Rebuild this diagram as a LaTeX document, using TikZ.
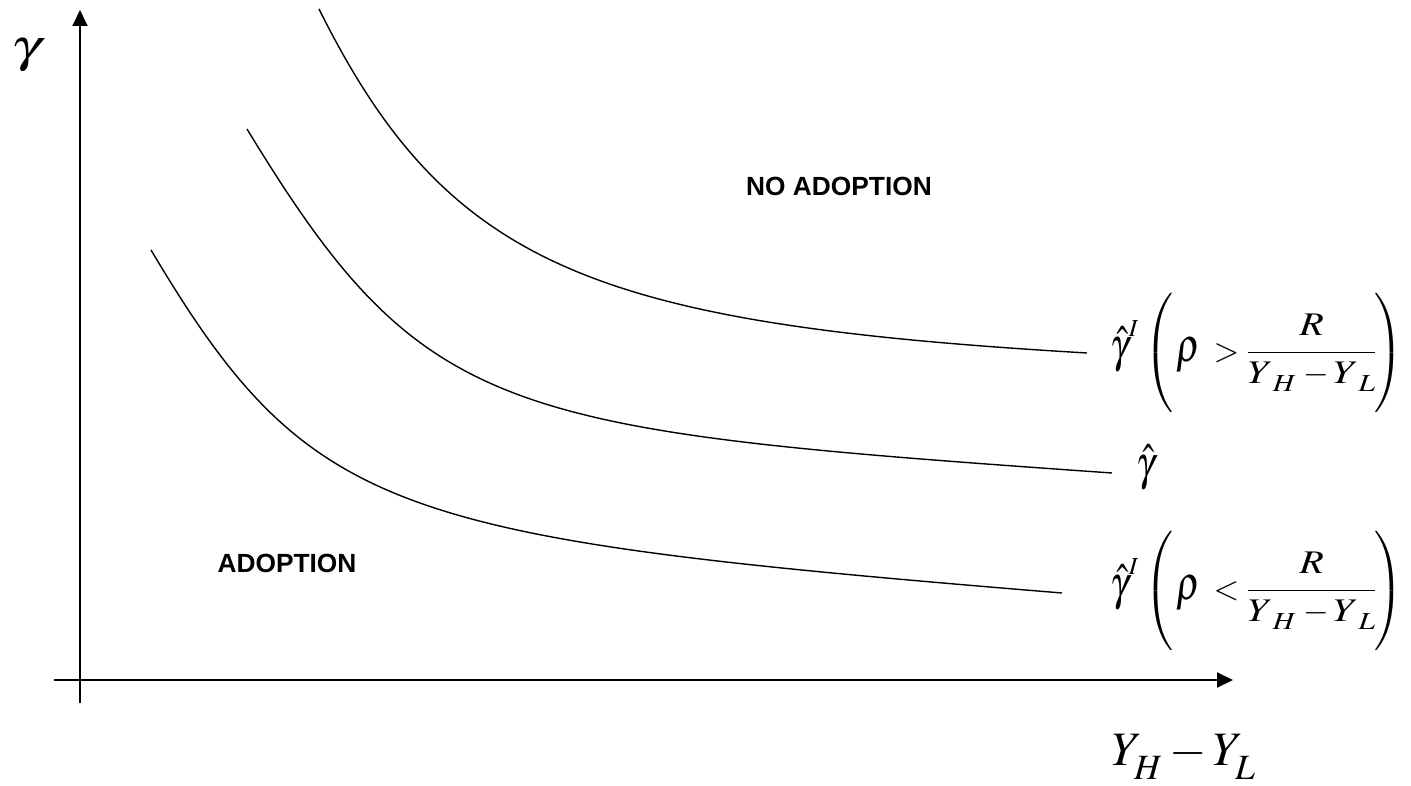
\documentclass[tikz,border=0pt]{standalone}
\usepackage{mathptmx}
\usepackage[no-math]{fontspec}
\usepackage{graphicx}
\newfontfamily\arialfont{Liberation Sans}
\usetikzlibrary{arrows.meta}
\newcommand{\Gk}[1]{\mbox{\scalebox{1.15}[1.45]{$#1$}}}
\newcommand{\W}[1]{\mbox{\scalebox{1.2}[1]{$#1$}}}
\newcommand{\Ws}[1]{\mbox{\scalebox{1.2}[1]{$\scriptstyle #1$}}}
\newcommand{\lsub}[2]{_{\lower#1\hbox{#2}}}
\newcommand{\gfrm}[1]{$\displaystyle \Gk{\hat\gamma}^{I}\hspace{2pt}\left(\vrule height 66pt depth 50pt width 0pt\hspace{3pt}\Gk{\rho}\hspace{6pt}#1\hspace{0pt}\frac{\raisebox{3pt}{\W{R}}}{\W{Y}\lsub{3pt}{\Ws{H}}\hspace{2pt}-\hspace{0pt}\W{Y}\lsub{3pt}{\Ws{L}}\hspace{0pt}}\hspace{-2pt}\right)$}
\tikzset{
  axisline/.style={line width=2pt, -{Triangle[length=16pt,width=15pt]}},
  curveline/.style={line width=1.4pt},
  region/.style={font=\fontsize{26.3}{30}\selectfont\arialfont\bfseries, inner sep=0pt},
  mathlbl/.style={font=\fontsize{33}{40}\selectfont, inner sep=0pt},
  axislbl/.style={font=\fontsize{48}{56}\selectfont, inner sep=0pt}
}
\begin{document}
\begin{tikzpicture}[x=1pt,y=-1pt]
\useasboundingbox[fill=white] (0,0) rectangle (1411,786);
% axes
\coordinate (ybot) at (80,703);
\coordinate (ytop) at (80,10);
\coordinate (xleft) at (54,680);
\coordinate (xright) at (1233,680);
\draw[axisline] (ybot) -- (ytop);
\draw[axisline] (xleft) -- (xright);
% curves
\coordinate (c1s) at (319,9);
\coordinate (c1e) at (1087,353);
\coordinate (c2s) at (247,129);
\coordinate (c2e) at (1112,473);
\coordinate (c3s) at (151,250);
\coordinate (c3e) at (1062,593);
\draw[curveline] (c1s) .. controls (448,268) and (594,324) .. (c1e);
\draw[curveline] (c2s) .. controls (424,420) and (500,430) .. (c2e);
\draw[curveline] (c3s) .. controls (310.5,518) and (393,538) .. (c3e);
% labels
\node[region] (noadopt) at (839,186) {NO ADOPTION};
\node[region] (adopt) at (287,563) {ADOPTION};
\node[inner sep=0pt, font=\fontsize{46}{52}\selectfont] (gam) at (26,55) {\scalebox{1.3}[1]{$\gamma$}};
\node[axislbl, anchor=base west] (xlbl) at (1112,765) {$Y\lsub{7pt}{$\scriptstyle H$}-Y\lsub{7pt}{$\scriptstyle L$}$};
\node[mathlbl, anchor=base west] (f1) at (1110,361) {\gfrm{>}};
\node[mathlbl, anchor=base west] (ghat) at (1136,479) {$\Gk{\hat\gamma}$};
\node[mathlbl, anchor=base west] (f2) at (1110,599) {\gfrm{<}};
\end{tikzpicture}
\end{document}
